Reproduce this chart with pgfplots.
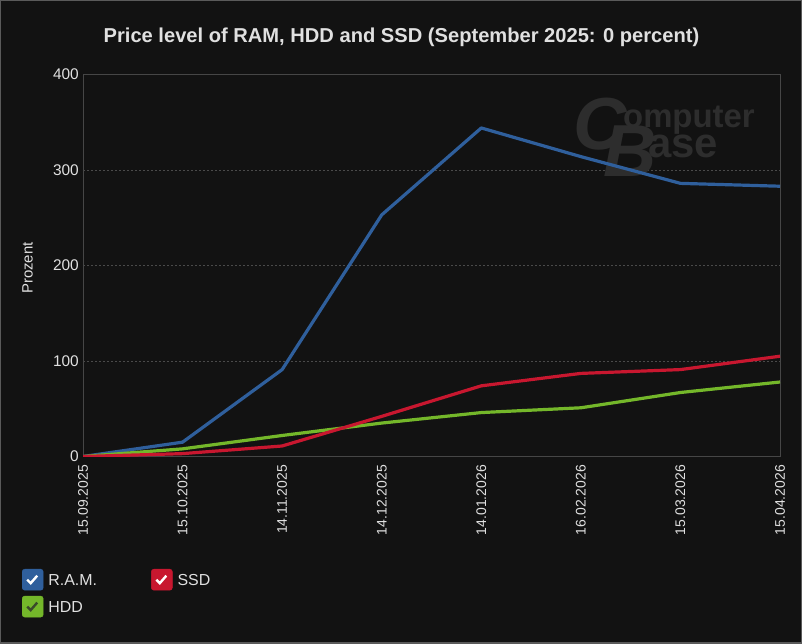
\documentclass[border=0pt]{standalone}
\usepackage{fontspec}
\setmainfont{Liberation Sans}
\usepackage{pgfplots}
\pgfplotsset{compat=1.18}
\definecolor{bg}{HTML}{121212}
\definecolor{framec}{HTML}{5A5A5A}
\definecolor{axisgray}{HTML}{464646}
\definecolor{gridgray}{HTML}{4A4A4A}
\definecolor{txt}{HTML}{E0E0E0}
\definecolor{ram}{HTML}{2F5F9C}
\definecolor{ssd}{HTML}{C8172F}
\definecolor{hdd}{HTML}{74B72A}
\definecolor{wm}{HTML}{2D2D2D}
\definecolor{checkdark}{HTML}{3A4A2A}

\pgfplotstableread{
x ram ssd hdd
0 0   0   0
1 15  3   8
2 91  11  22
3 253 42  35
4 344 74  46
5 314 87  51
6 286 91  67
7 283 105 78
}\pricedata

\begin{document}
\begin{tikzpicture}[x=1bp,y=1bp]
\fill[bg] (0,0) rectangle (802,644);
\draw[framec, line width=1.5bp] (0.75,0.75) rectangle (801.25,643.25);
\begin{axis}[
  at={(83bp,187.5bp)}, anchor=south west,
  scale only axis, width=697bp, height=382bp,
  xmin=0, xmax=7, ymin=0, ymax=400,
  xtick={0,...,7},
  xticklabels={15.09.2025,15.10.2025,14.11.2025,14.12.2025,14.01.2026,16.02.2026,15.03.2026,15.04.2026},
  x tick label style={rotate=90, anchor=east, inner sep=0pt, font=\fontsize{14}{14}\selectfont, text=txt},
  xticklabel shift=8.5bp,
  ytick={0,100,200,300,400},
  y tick label style={anchor=east, inner sep=0pt, font=\fontsize{15.5}{15.5}\selectfont, text=txt},
  yticklabel shift=4bp,
  /pgf/number format/assume math mode=true,
  ymajorgrids,
  grid style={gridgray, dash pattern=on 2bp off 2bp, line width=0.6bp},
  axis line style={axisgray, line width=1bp},
  major tick length=0pt,
  tick style={draw=none},
  ylabel={Prozent},
  every axis y label/.style={at={(axis description cs:-0.0796,0.4935)}, rotate=90, anchor=center, font=\fontsize{15}{15}\selectfont, text=txt},
  title={Price level of RAM, HDD and SSD (September 2025: 0 percent)},
  every axis title/.style={at={(axis description cs:0.457,1.0832)}, anchor=base, font=\bfseries\fontsize{20.2}{20.2}\selectfont, text=txt},
  legend columns=2,
  legend style={at={(axis description cs:-0.0875,-0.2945)}, anchor=north west, draw=none, fill=none, inner sep=0pt, outer sep=0pt,
    font=\fontsize{16}{16}\selectfont, text=txt,
    nodes={inner sep=0pt},
    row sep=5.5bp,
    /tikz/every odd column/.append style={column sep=5bp},
    /tikz/every even column/.append style={column sep=54bp}},
  legend cell align=left,
]
% watermark
\node[wm, anchor=base west, inner sep=0pt, font=\bfseries\itshape\fontsize{74}{74}\selectfont] at (axis description cs:0.703,0.8024) {C};
\node[wm, anchor=base west, inner sep=0pt, font=\bfseries\itshape\fontsize{74}{74}\selectfont] at (axis description cs:0.746,0.7317) {B};
\node[wm, anchor=base west, inner sep=0pt, font=\bfseries\fontsize{33}{33}\selectfont] at (axis description cs:0.7747,0.860) {omputer};
\node[wm, anchor=base west, inner sep=0pt, font=\bfseries\fontsize{42}{42}\selectfont] at (axis description cs:0.8106,0.7814) {ase};

\addlegendimage{legend image code/.code={\fill[ram, rounded corners=2.5bp] (0bp,-9.5bp) rectangle (21bp,11.5bp); \draw[white, line width=2.4bp] (5bp,1bp) -- (8.5bp,-2.5bp) -- (15bp,5bp);}}
\addlegendentry{R.A.M.}
\addlegendimage{legend image code/.code={\fill[ssd, rounded corners=2.5bp] (0bp,-9.5bp) rectangle (21bp,11.5bp); \draw[white, line width=2.4bp] (5bp,1bp) -- (8.5bp,-2.5bp) -- (15bp,5bp);}}
\addlegendentry{SSD}
\addlegendimage{legend image code/.code={\fill[hdd, rounded corners=2.5bp] (0bp,-9.5bp) rectangle (21bp,11.5bp); \draw[checkdark, line width=2.4bp] (5bp,1bp) -- (8.5bp,-2.5bp) -- (15bp,5bp);}}
\addlegendentry{HDD}

\addplot[ram, line width=3.2bp, line join=round, forget plot] table[x=x, y=ram] {\pricedata};
\addplot[hdd, line width=3.2bp, line join=round, forget plot] table[x=x, y=hdd] {\pricedata};
\addplot[ssd, line width=3.2bp, line join=round, forget plot] table[x=x, y=ssd] {\pricedata};
\end{axis}
\end{tikzpicture}
\end{document}
